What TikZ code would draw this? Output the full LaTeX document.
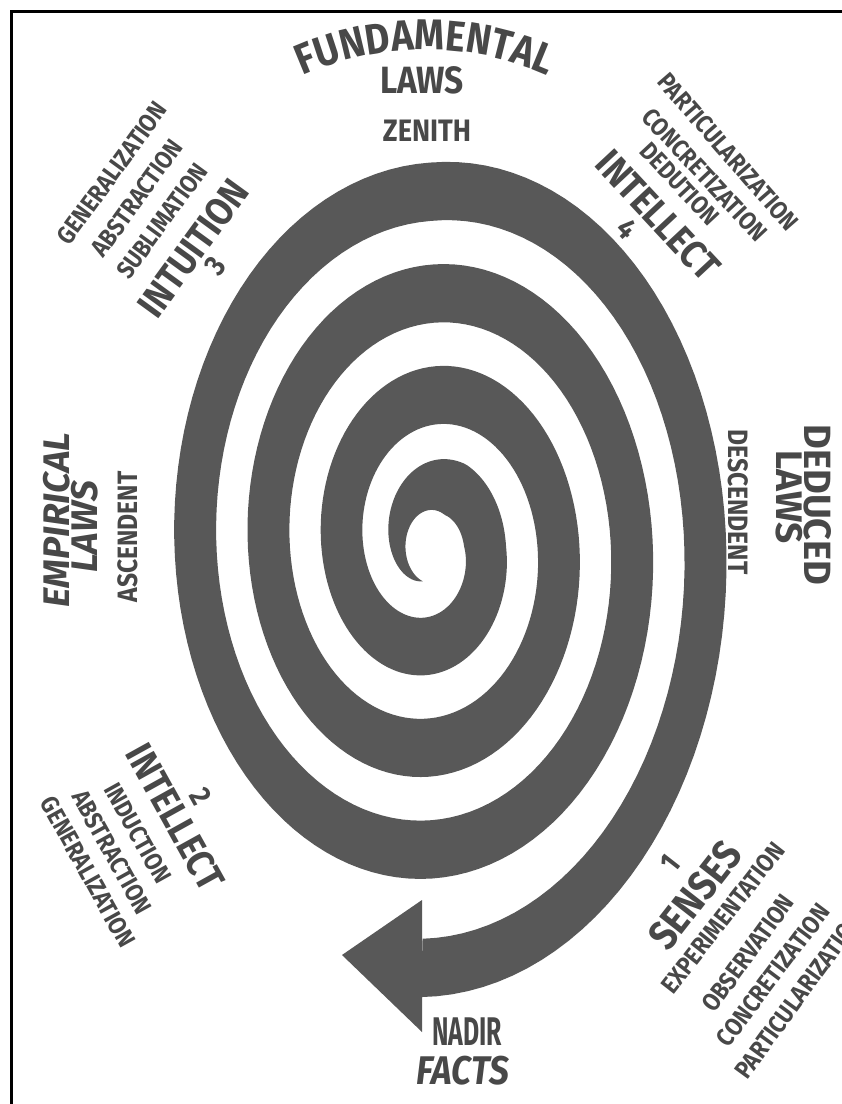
\documentclass[tikz,border=0pt]{standalone}
\usepackage{fontspec}
\usetikzlibrary{decorations.text}
\newfontfamily\condfont{Fira Sans}[FakeStretch=0.88]
\newfontfamily\narrowfont{Fira Sans}[FakeStretch=0.62]
\newfontfamily\widefont{Fira Sans}
\definecolor{spiralgray}{RGB}{88,88,88}
\definecolor{textgray}{RGB}{72,72,72}

\begin{document}
\begin{tikzpicture}[x=1pt, y=-1pt,
  lbl/.style={text=textgray, inner sep=0pt, font=\condfont\bfseries\fontsize{#1}{#1}\selectfont},
  widelbl/.style={text=textgray, inner sep=0pt, font=\widefont\bfseries\fontsize{#1}{#1}\selectfont},
  narrowlbl/.style={text=textgray, inner sep=0pt, font=\narrowfont\bfseries\fontsize{#1}{#1}\selectfont},
  declare function={
    sr(\x)=53+0.204*\x+0.1*max(0,-\x);
    hw(\x)=21*min(1,(\x+250)/190);
    ex(\x)=16*max(0,\x-990)/180;
    sx(\x,\y)=432+(sr(\x)+\y)*cos(\x);
    sy(\x,\y)=546+(1.39*(sr(\x)+\y)+ex(\x))*sin(\x);
  }]

\useasboundingbox (0,0) rectangle (842,1104);
\clip (0,0) rectangle (842,1104);

% frame
\draw[line width=3pt] (11,1110) -- (11,11) -- (850,11);

% spiral band, tapering at the inner tip
\fill[spiralgray]
  plot[domain=-250:1172, samples=500, variable=\x] ({sx(\x,hw(\x))},{sy(\x,hw(\x))})
  -- plot[domain=1172:-250, samples=500, variable=\x] ({sx(\x,-hw(\x))},{sy(\x,-hw(\x))})
  -- cycle;

% arrow head
\coordinate (tip) at (342,955);
\coordinate (headtop) at (422,900);
\coordinate (headbot) at (422,1032);
\fill[spiralgray] (headtop) -- (tip) -- (headbot) -- cycle;

% top
\path[decorate, decoration={text along path, text align=center,
  text={|\condfont\bfseries\fontsize{43}{43}\selectfont\color{textgray}|FUNDAMENTAL}}]
  (249,107) arc[start angle=234, end angle=306, radius=300];
\node[lbl=38] (toplaws) at (422,80) {LAWS};
\node[lbl=31] (zenith) at (427,131) {ZENITH};

% upper left
\node[lbl=25, rotate=54] (gen3) at (112,173) {GENERALIZATION};
\node[lbl=25, rotate=54] (abs3) at (137,198) {ABSTRACTION};
\node[lbl=25, rotate=54] (sub3) at (162,221) {SUBLIMATION};
\node[lbl=39, rotate=54] (intuition) at (193,248) {INTUITION};
\node[lbl=30, rotate=54] (num3) at (215,266) {3};

% upper right
\node[lbl=25, rotate=-49] (part4) at (728,152) {PARTICULARIZATION};
\node[lbl=25, rotate=-47] (conc4) at (705,175) {CONCRETIZATION};
\node[lbl=25, rotate=-47] (ded4) at (680,184) {DEDUTION};
\node[lbl=39, rotate=-47] (intel4) at (658,215) {INTELLECT};
\node[lbl=30, rotate=-47] (num4) at (627,229) {4};

% left
\node[widelbl=37, rotate=90] (empirical) at (57,520) {\itshape EMPIRICAL};
\node[widelbl=37, rotate=90] (emplaws) at (85,527) {\itshape LAWS};
\node[lbl=28, rotate=90] (ascendent) at (128,537) {ASCENDENT};

% right
\node[widelbl=38, rotate=-90] (deduced) at (818,505) {DEDUCED};
\node[widelbl=37, rotate=-90] (dedlaws) at (789,497) {LAWS};
\node[lbl=28, rotate=-90] (descendent) at (738,502) {DESCENDENT};

% lower left
\node[lbl=30, rotate=-61] (num2) at (201,796) {2};
\node[lbl=39, rotate=-61] (intel2) at (175,817) {INTELLECT};
\node[lbl=25, rotate=-61] (ind2) at (138,833) {INDUCTION};
\node[lbl=25, rotate=-61] (abs2) at (112,852) {ABSTRACTION};
\node[lbl=25, rotate=-61] (gen2) at (88,872) {GENERALIZATION};

% lower right
\node[lbl=30, rotate=52] (num1) at (670,863) {1};
\node[lbl=41, rotate=52] (senses) at (695,895) {SENSES};
\node[lbl=25, rotate=52] (exp1) at (723,918) {EXPERIMENTATION};
\node[lbl=25, rotate=54] (obs1) at (748,953) {OBSERVATION};
\node[lbl=25, rotate=53] (conc1) at (773,975) {CONCRETIZATION};
\node[lbl=25, rotate=54] (part1) at (799,995) {PARTICULARIZATION};

% bottom
\node[narrowlbl=40] (nadir) at (467,1032) {NADIR};
\node[lbl=40] (facts) at (463,1071) {\itshape FACTS};

\end{tikzpicture}
\end{document}
